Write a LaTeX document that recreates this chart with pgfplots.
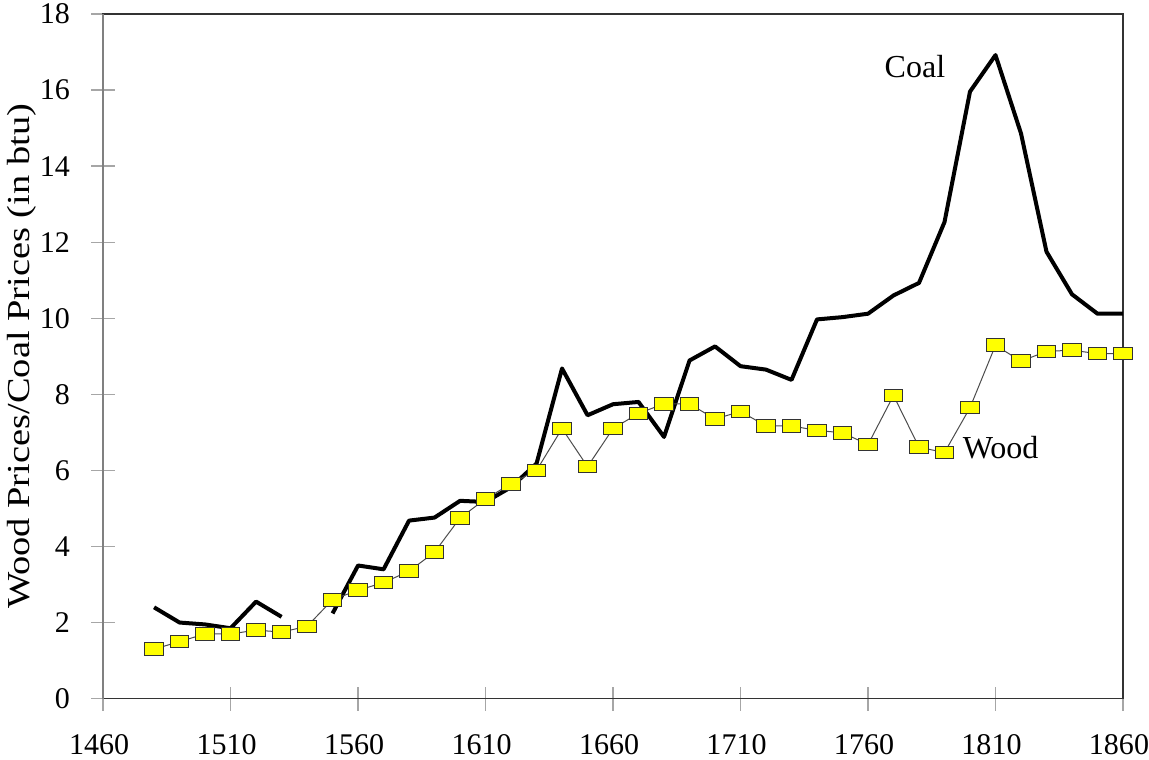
\documentclass[border=0pt]{standalone}
\usepackage{graphicx}
\usepackage{pgfplots}
\pgfplotsset{compat=1.18}
\usepackage{fontspec}
\setmainfont{Liberation Serif}
\definecolor{woodyellow}{RGB}{255,255,0}
\begin{document}
\begin{tikzpicture}
\begin{axis}[
  name=ax,
  scale only axis,
  width=509.5pt, height=342pt,
  xmin=1460, xmax=1860, ymin=0, ymax=18,
  xtick={1460,1510,...,1860},
  ytick={0,2,...,18},
  xtick pos=bottom, ytick pos=left,
  /pgf/number format/assume math mode=true,
  /pgf/number format/1000 sep={},
  tick label style={font=\fontsize{15}{18}\selectfont},
  ylabel style={font=\fontsize{16}{19}\selectfont, at={(axis description cs:-0.0795,0.5)}, anchor=center},
  ylabel={\scalebox{1.2}[1.0]{Wood Prices/Coal Prices (in btu)}},
  axis line style={black!80, line width=0.6pt},
  tick style={gray!70, line width=0.7pt},
  tick align=center,
  major tick length=12pt,
  minor tick num=0,
  unbounded coords=jump,
  clip=false,
  yticklabel style={xshift=-7pt},
  xticklabel style={yshift=-8.5pt, xshift=-2pt},
]
\addplot[black, line width=2pt, line join=round] coordinates {
(1480,2.4) (1490,2.0) (1500,1.95) (1510,1.85) (1520,2.55) (1530,2.15)
(1540,nan)
(1550,2.24) (1560,3.5) (1570,3.4) (1580,4.68) (1590,4.76) (1600,5.2)
(1610,5.17) (1620,5.56) (1630,6.18) (1640,8.68) (1650,7.45) (1660,7.74)
(1670,7.8) (1680,6.88) (1690,8.89) (1700,9.26) (1710,8.74) (1720,8.65)
(1730,8.38) (1740,9.97) (1750,10.03) (1760,10.12) (1770,10.6) (1780,10.93)
(1790,12.53) (1800,15.96) (1810,16.92) (1820,14.86) (1830,11.75) (1840,10.63)
(1850,10.12) (1860,10.12)
};
\addplot[black!70, line width=0.5pt, mark=square*,
  mark options={fill=woodyellow, draw=black!80, line width=0.5pt, xscale=1.47},
  mark size=3.15pt] coordinates {
(1480,1.3) (1490,1.5) (1500,1.7) (1510,1.7) (1520,1.8) (1530,1.75)
(1540,1.9) (1550,2.6) (1560,2.85) (1570,3.05) (1580,3.35) (1590,3.85)
(1600,4.75) (1610,5.25) (1620,5.65) (1630,6.0) (1640,7.1) (1650,6.1)
(1660,7.1) (1670,7.5) (1680,7.75) (1690,7.75) (1700,7.35) (1710,7.55)
(1720,7.17) (1730,7.17) (1740,7.05) (1750,6.99) (1760,6.68) (1770,7.97)
(1780,6.61) (1790,6.47) (1800,7.65) (1810,9.29) (1820,8.87) (1830,9.13)
(1840,9.16) (1850,9.07) (1860,9.07)
};
\draw[gray, line width=1.2pt] (rel axis cs:0,0) -- (rel axis cs:0,1);
\node[font=\fontsize{16}{19}\selectfont] at (axis cs:1778.4,16.63) {Coal};
\node[font=\fontsize{16}{19}\selectfont] at (axis cs:1812,6.6) {Wood};
\end{axis}
\pgfresetboundingbox
\path ([xshift=-51.5pt,yshift=-30.5pt]ax.south west) rectangle ([xshift=13pt,yshift=7pt]ax.north east);
\end{tikzpicture}
\end{document}
